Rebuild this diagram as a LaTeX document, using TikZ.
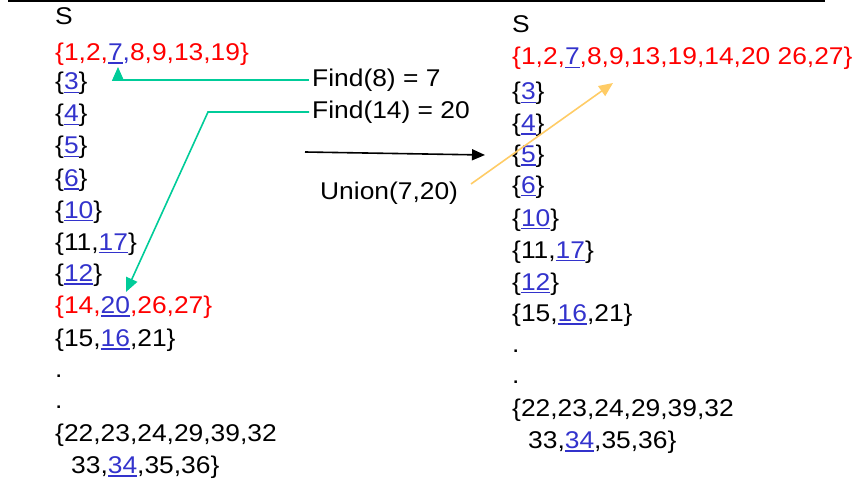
\documentclass[tikz,border=0pt]{standalone}
\usepackage{fontspec}
\setmainfont[FakeStretch=1.09]{Liberation Sans}
\usetikzlibrary{arrows.meta}
\definecolor{setred}{RGB}{255,0,0}
\definecolor{linkblue}{RGB}{51,51,204}
\definecolor{findgreen}{RGB}{0,204,153}
\definecolor{unionorange}{RGB}{255,204,102}
\newsavebox\lnkbox
% representative element: blue, underlined
\newcommand\lnk[1]{{\color{linkblue}\sbox\lnkbox{#1}\rlap{\rule[-3.2pt]{\wd\lnkbox}{1.5pt}}\usebox\lnkbox}}
\newcommand\red[1]{\textcolor{setred}{#1}}
\begin{document}
\begin{tikzpicture}[x=1pt,y=-1pt,
  settext/.style={anchor=base west,inner sep=0pt,font=\fontsize{24.2}{29}\selectfont},
  optext/.style={anchor=west,inner sep=3pt,font=\fontsize{24.2}{29}\selectfont},
  findarrow/.style={draw=findgreen,line width=1.6pt,-{Triangle[length=14pt,width=12pt]}},
  unionarrow/.style={draw=unionorange,line width=1.6pt,-{Triangle[length=14pt,width=12pt]}},
  steparrow/.style={draw=black,line width=1.6pt,-{Triangle[length=13pt,width=11pt]}}]
\useasboundingbox (0,0) rectangle (859,481);
\draw[line width=1.6pt] (8,1) -- (825,1);

% sets before the union
\node[settext] (lS)  at (55,25)    {S};
\node[settext] (l1)  at (55,60.5)  {\red{\{1,2,}\lnk{7}\textcolor{linkblue}{,}\red{8,9,13,19\}}};
\node[settext] (l2)  at (55,90)    {\{\lnk{3}\}};
\node[settext] (l3)  at (55,122)   {\{\lnk{4}\}};
\node[settext] (l4)  at (55,154)   {\{\lnk{5}\}};
\node[settext] (l5)  at (55,186.5) {\{\lnk{6}\}};
\node[settext] (l6)  at (55,218.3) {\{\lnk{10}\}};
\node[settext] (l7)  at (55,250)   {\{11,\lnk{17}\}};
\node[settext] (l8)  at (55,281.7) {\{\lnk{12}\}};
\node[settext] (l9)  at (55,313.3) {\red{\{14,}\lnk{20}\red{,26,27\}}};
\node[settext] (l10) at (55,346.7) {\{15,\lnk{16},21\}};
\node[settext] (l11) at (55,377)   {.};
\node[settext] (l12) at (55,408)   {.};
\node[settext] (l13) at (55,441.7) {\{22,23,24,29,39,32};
\node[settext] (l14) at (71,473.3) {33,\lnk{34},35,36\}};

% sets after the union
\node[settext] (rS)  at (512,33)    {S};
\node[settext] (r1)  at (512,65)    {\red{\{1,2,}\lnk{7}\red{,8,9,13,19,14,20 26,27\}}};
\node[settext] (r2)  at (512,100)   {\{\lnk{3}\}};
\node[settext] (r3)  at (512,131.7) {\{\lnk{4}\}};
\node[settext] (r4)  at (512,162.5) {\{\lnk{5}\}};
\node[settext] (r5)  at (512,193.3) {\{\lnk{6}\}};
\node[settext] (r6)  at (512,226)   {\{\lnk{10}\}};
\node[settext] (r7)  at (512,258)   {\{11,\lnk{17}\}};
\node[settext] (r8)  at (512,290)   {\{\lnk{12}\}};
\node[settext] (r9)  at (512,321.7) {\{15,\lnk{16},21\}};
\node[settext] (r10) at (512,352)   {.};
\node[settext] (r11) at (512,383)   {.};
\node[settext] (r12) at (512,416.7) {\{22,23,24,29,39,32};
\node[settext] (r13) at (528,448.3) {33,\lnk{34},35,36\}};

% operations
\node[optext] (f8)  at (309,80)    {Find(8) = 7};
\node[optext] (f14) at (309,112)   {Find(14) = 20};
\node[settext] (un) at (320,200)   {Union(7,20)};

\coordinate (t8)   at (118,67);
\coordinate (k14)  at (208,112);
\coordinate (t14)  at (126,292);
\coordinate (s0)   at (305,152);
\coordinate (s1)   at (485,155);
\coordinate (u0)   at (471,184);
\coordinate (u1)   at (613,83);

\draw[findarrow] (f8.west) -| (t8);
\draw[findarrow] (f14.west) -- (k14) -- (t14);
\draw[steparrow] (s0) -- (s1);
\draw[unionarrow] (u0) -- (u1);
\end{tikzpicture}
\end{document}
